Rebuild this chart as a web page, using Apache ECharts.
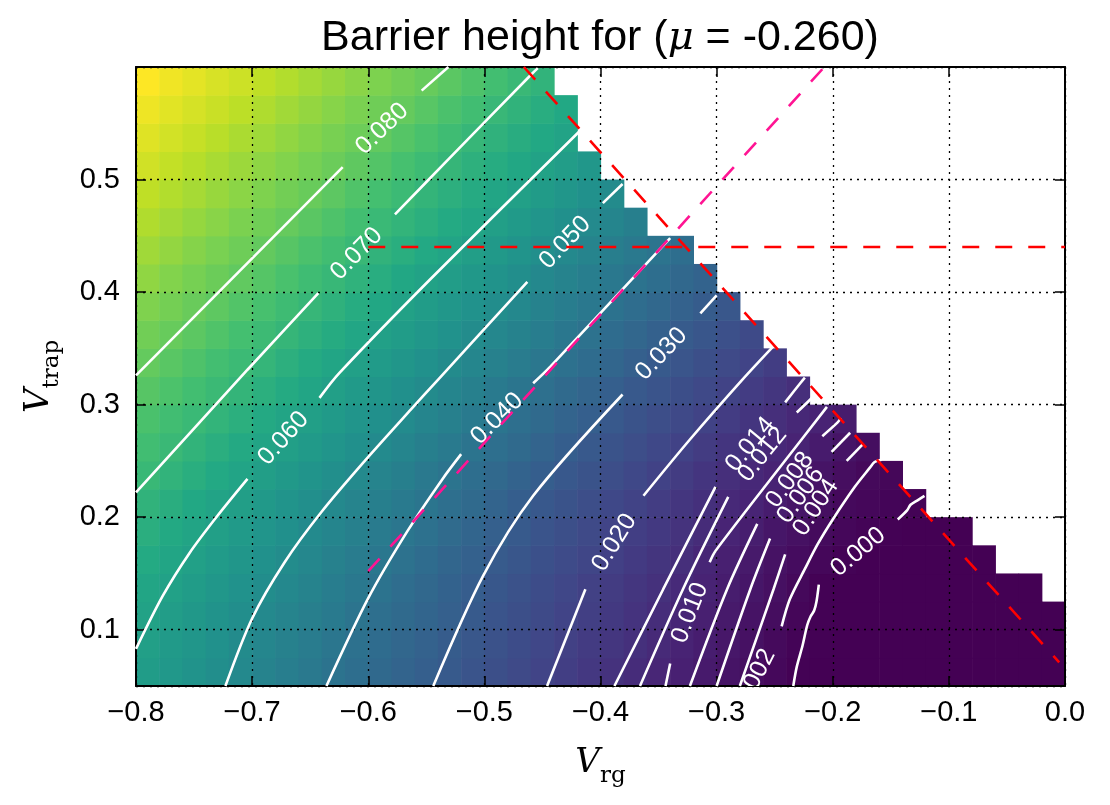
<!DOCTYPE html>
<html>
<head>
<meta charset="utf-8">
<script src="https://cdn.jsdelivr.net/npm/echarts@6/dist/echarts.min.js"></script>
<style>html,body{margin:0;padding:0;background:#fff}#chart{width:1110px;height:805px}</style>
</head>
<body>
<div id="chart"></div>
<script>
// ---------------- data ----------------
// heatmap cell centres
const xCenters = [-0.79,-0.77,-0.75,-0.73,-0.71,-0.69,-0.67,-0.65,-0.63,-0.61,-0.59,-0.57,-0.55,-0.53,-0.51,-0.49,-0.47,-0.45,-0.43,-0.41,-0.39,-0.37,-0.35,-0.33,-0.31,-0.29,-0.27,-0.25,-0.23,-0.21,-0.19,-0.17,-0.15,-0.13,-0.11,-0.09,-0.07,-0.05,-0.03,-0.01];
const yCenters = [0.0625,0.0875,0.1125,0.1375,0.1625,0.1875,0.2125,0.2375,0.2625,0.2875,0.3125,0.3375,0.3625,0.3875,0.4125,0.4375,0.4625,0.4875,0.5125,0.5375,0.5625,0.5875];
// barrier height in units of 1e-3, one row per yCenter; cells past the end of a row are masked (white)
const barrierRows = [
[57.8,55.7,53.5,51.3,49.1,46.8,44.5,42.3,40.0,37.8,35.7,33.5,31.3,29.2,27.1,25.0,22.9,20.8,18.8,16.9,14.9,12.9,10.8,9.0,7.2,5.4,3.5,1.7,-0.2,-0.5,-0.5,-0.5,-0.5,-0.5,-0.5,-0.5,-0.5,-0.5,-0.5,-0.5],
[59.1,56.9,54.7,52.4,50.2,48.0,45.8,43.6,41.3,39.1,36.9,34.7,32.5,30.3,28.2,26.1,24.0,21.9,19.8,17.9,16.0,14.1,12.0,9.8,8.1,6.2,4.2,2.2,0.4,-0.3,-0.5,-0.5,-0.5,-0.5,-0.5,-0.5,-0.5,-0.5,-0.5,-0.5],
[60.4,58.2,56.0,53.7,51.4,49.2,47.0,44.8,42.6,40.4,38.2,36.0,33.8,31.6,29.4,27.2,25.1,23.0,20.9,18.9,17.0,15.2,13.2,10.9,8.9,7.0,5.1,3.0,1.0,-0.2,-0.5,-0.5,-0.5,-0.5,-0.5,-0.5,-0.5,-0.5,-0.5,-0.5],
[62.0,59.8,57.5,55.3,53.1,50.8,48.6,46.4,44.1,41.9,39.7,37.4,35.1,32.8,30.5,28.3,26.2,24.0,21.9,19.8,18.0,16.2,14.4,12.2,9.7,8.0,6.0,3.9,1.8,-0.1,-0.5,-0.5,-0.5,-0.5,-0.5,-0.5,-0.5,-0.5,-0.5],
[63.9,61.7,59.4,57.1,54.9,52.6,50.3,48.1,45.9,43.7,41.5,39.3,36.9,34.5,32.1,29.8,27.7,25.6,23.5,21.4,19.3,17.5,15.6,13.6,10.9,8.8,7.0,4.8,2.9,1.3,0.0,-0.5,-0.5,-0.5,-0.5,-0.5,-0.5],
[65.9,63.6,61.3,59.0,56.6,54.3,52.0,49.7,47.5,45.5,43.3,41.2,38.9,36.5,34.0,31.6,29.3,27.2,25.1,22.9,20.8,18.8,17.1,15.1,12.7,10.2,8.2,6.0,4.2,2.4,1.3,0.5,-0.2,-0.5,-0.5,-0.5],
[67.9,65.6,63.3,61.0,58.7,56.3,53.9,51.5,49.2,47.1,45.0,42.8,40.6,38.3,35.9,33.4,31.0,28.7,26.6,24.5,22.4,20.3,18.3,16.2,14.2,11.8,10.1,7.8,5.7,3.8,2.0,1.3,0.7,0.1],
[70.4,68.1,65.8,63.4,61.1,58.7,56.4,54.1,51.8,49.5,47.2,44.9,42.5,40.2,37.9,35.5,33.2,30.9,28.7,26.6,24.5,22.3,20.2,18.0,15.9,13.7,11.6,9.9,7.6,5.4,3.5,1.8,1.2],
[72.7,70.6,68.3,66.0,63.7,61.2,58.9,56.6,54.3,52.0,49.7,47.4,45.1,42.8,40.4,38.1,35.8,33.5,31.1,28.8,26.7,24.5,22.4,20.2,18.0,15.8,13.7,11.6,9.8,7.4,5.3,3.3],
[75.0,72.9,70.8,68.6,66.2,63.8,61.4,59.1,56.8,54.5,52.1,49.8,47.5,45.2,42.9,40.6,38.2,35.9,33.6,31.2,29.0,26.8,24.6,22.5,20.3,18.1,15.9,13.7,11.5,9.7,7.6],
[77.5,75.4,73.2,71.1,68.8,66.4,64.0,61.6,59.2,56.9,54.6,52.3,50.0,47.6,45.3,43.0,40.7,38.4,36.1,33.7,31.4,29.1,27.0,24.8,22.6,20.4,18.2,16.0,13.7],
[80.1,77.9,75.7,73.5,71.3,69.0,66.6,64.1,61.7,59.3,57.0,54.7,52.4,50.2,48.0,45.8,43.6,41.4,39.1,36.7,34.2,31.8,29.5,27.3,25.1,22.9,20.7,18.5],
[82.7,80.6,78.4,76.1,73.8,71.6,69.3,66.9,64.5,62.1,59.7,57.4,55.1,52.8,50.5,48.3,46.1,43.9,41.6,39.4,37.0,34.6,32.2,29.8,27.6,25.3,23.0],
[85.2,83.2,81.1,78.9,76.6,74.3,72.0,69.6,67.2,64.8,62.5,60.1,57.8,55.5,53.2,50.8,48.6,46.3,44.1,41.9,39.6,37.3,35.0,32.6,30.2,28.0],
[87.8,85.7,83.6,81.5,79.4,77.1,74.7,72.3,70.0,67.6,65.3,62.9,60.5,58.2,55.9,53.5,51.2,48.9,46.6,44.4,42.1,39.9,37.6,35.3,33.0],
[90.4,88.3,86.2,84.1,82.0,79.9,77.6,75.2,72.8,70.4,68.0,65.7,63.4,61.1,58.7,56.3,53.9,51.5,49.2,46.9,44.6,42.4,40.1,37.9],
[92.9,90.8,88.7,86.7,84.6,82.5,80.4,78.1,75.7,73.3,70.8,68.5,66.2,63.9,61.6,59.2,56.8,54.4,52.0,49.6,47.3,45.0],
[95.4,93.3,91.3,89.2,87.1,85.0,82.9,80.8,78.6,76.2,73.7,71.3,68.9,66.6,64.3,62.0,59.7,57.3,54.9,52.5,50.1],
[98.1,96.0,93.9,91.8,89.7,87.6,85.6,83.5,81.4,79.1,76.7,74.2,71.7,69.3,67.0,64.8,62.5,60.3,57.9,55.5],
[100.6,98.5,96.4,94.3,92.2,90.2,88.1,86.0,83.9,81.8,79.7,77.2,74.7,72.2,69.7,67.5,65.2,63.0,60.8],
[103.1,101.0,98.9,96.9,94.8,92.7,90.6,88.5,86.4,84.3,82.2,80.3,77.7,75.2,72.7,70.2,67.8,65.4,63.0],
[105.6,103.5,101.4,99.3,97.4,95.3,93.2,91.1,89.0,86.9,84.9,82.8,80.7,78.3,75.7,73.2,70.6,68.1]
];

// contour levels and their traced paths (each path = list of segments, label gaps between segments)
const contourLabels = ['0.000','0.002','0.004','0.006','0.008','0.010','0.012','0.014','0.020','0.030','0.040','0.050','0.060','0.070','0.080'];
const contourPaths = [
  [[[-0.234,0.050],[-0.231,0.067],[-0.226,0.086],[-0.222,0.104],[-0.219,0.112],[-0.216,0.117],[-0.214,0.125],[-0.212,0.140]],
   [[-0.144,0.198],[-0.136,0.206],[-0.133,0.211],[-0.127,0.215],[-0.121,0.219]]],
  [[[-0.290,0.010]],
   [[-0.244,0.103],[-0.237,0.127],[-0.224,0.154],[-0.213,0.176],[-0.200,0.198],[-0.181,0.227],[-0.168,0.244],[-0.164,0.249],[-0.158,0.251]]],
  [[[-0.280,0.050],[-0.251,0.136],[-0.241,0.167]], [[-0.188,0.250],[-0.174,0.265]]],
  [[[-0.300,0.050],[-0.271,0.136],[-0.254,0.181]], [[-0.201,0.258],[-0.185,0.275]]],
  [[[-0.323,0.050],[-0.291,0.136],[-0.265,0.194]], [[-0.209,0.272],[-0.196,0.284],[-0.193,0.288]]],
  [[[-0.344,0.050],[-0.340,0.070]], [[-0.306,0.160],[-0.301,0.170],[-0.245,0.245],[-0.205,0.298]]],
  [[[-0.366,0.050],[-0.329,0.136],[-0.290,0.218]], [[-0.231,0.293],[-0.215,0.309],[-0.212,0.313]]],
  [[[-0.388,0.050],[-0.346,0.136],[-0.301,0.227]], [[-0.241,0.302],[-0.228,0.319],[-0.224,0.324]]],
  [[[-0.446,0.050],[-0.413,0.136]], [[-0.363,0.219],[-0.323,0.269],[-0.278,0.322],[-0.251,0.352]]],
  [[[-0.544,0.050],[-0.501,0.148],[-0.458,0.219],[-0.381,0.309]], [[-0.314,0.381],[-0.300,0.397]]],
  [[[-0.636,0.050],[-0.600,0.128],[-0.566,0.188],[-0.536,0.234],[-0.520,0.256]], [[-0.458,0.319],[-0.443,0.334],[-0.340,0.448]]],
  [[[-0.723,0.050],[-0.700,0.110],[-0.672,0.160],[-0.640,0.205],[-0.603,0.250],[-0.563,0.296],[-0.540,0.322],[-0.463,0.409]], [[-0.398,0.479],[-0.381,0.496]]],
  [[[-0.800,0.083],[-0.777,0.130],[-0.754,0.168],[-0.730,0.201],[-0.704,0.234]], [[-0.642,0.306],[-0.625,0.328],[-0.547,0.411],[-0.415,0.546]]],
  [[[-0.800,0.222],[-0.704,0.331],[-0.643,0.399]], [[-0.577,0.469],[-0.530,0.519],[-0.459,0.594],[-0.454,0.599]]],
  [[[-0.800,0.326],[-0.622,0.511]], [[-0.554,0.579],[-0.531,0.600]]]
];

// reference lines
const redHorizontal = [[-0.6,0.44],[0.0,0.44]];
const redDiagonal = [[-0.466,0.600],[-0.005,0.071]];
const pinkDiagonal = [[-0.600,0.152],[-0.209,0.598]];

// axis ranges
const xRange = [-0.8, 0.0];
const yRange = [0.05, 0.6];

// ---------------- build chart ----------------
const cells = [];
barrierRows.forEach((row, r) => {
  row.forEach((v, c) => { cells.push([xCenters[c], yCenters[r], v / 1000]); });
});
let vMin = Infinity, vMax = -Infinity;
cells.forEach(d => { vMin = Math.min(vMin, d[2]); vMax = Math.max(vMax, d[2]); });
const cellW = Math.abs(xCenters[1] - xCenters[0]);
const cellH = Math.abs(yCenters[1] - yCenters[0]);

const labelItems = [];
contourPaths.forEach((segs, li) => {
  for (let k = 0; k + 1 < segs.length; k++) {
    const a = segs[k][segs[k].length - 1], b = segs[k + 1][0];
    labelItems.push([(a[0] + b[0]) / 2, (a[1] + b[1]) / 2, li, a[0], a[1], b[0], b[1]]);
  }
});

const viridis = ['#440154','#482475','#414487','#355f8d','#2a788e','#21918c','#22a884','#44bf70','#7ad151','#bddf26','#fde725'];
const sans = 'Liberation Sans, Arial, Helvetica, sans-serif';
const serif = 'DejaVu Serif, serif';

const series = [];
series.push({
  type: 'custom', name: 'barrier', z: 1, clip: true, silent: true,
  dimensions: ['x', 'y', 'v'], encode: { x: 0, y: 1 },
  data: cells,
  renderItem: function (params, api) {
    const x = api.value(0), y = api.value(1);
    const p0 = api.coord([x - cellW / 2, y + cellH / 2]);
    const p1 = api.coord([x + cellW / 2, y - cellH / 2]);
    return { type: 'rect', shape: { x: p0[0], y: p0[1], width: p1[0] - p0[0] + 0.6, height: p1[1] - p0[1] + 0.6 },
             style: { fill: api.visual('color') } };
  }
});
contourPaths.forEach(segs => segs.forEach(seg => {
  if (seg.length > 1) series.push({ type: 'line', data: seg, symbol: 'none', showSymbol: false, z: 4, silent: true, clip: true,
    smooth: 0.3, lineStyle: { color: '#ffffff', width: 2.6 } });
}));
series.push({
  type: 'custom', name: 'contour labels', z: 5, clip: true, silent: true,
  dimensions: ['x', 'y', 'lvl', 'x1', 'y1', 'x2', 'y2'], encode: { x: 0, y: 1 },
  data: labelItems,
  renderItem: function (params, api) {
    const p = api.coord([api.value(0), api.value(1)]);
    const a = api.coord([api.value(3), api.value(4)]);
    const b = api.coord([api.value(5), api.value(6)]);
    let ang = Math.atan2(-(b[1] - a[1]), b[0] - a[0]);
    if (ang > Math.PI / 2) ang -= Math.PI;
    if (ang < -Math.PI / 2) ang += Math.PI;
    return { type: 'text', x: p[0], y: p[1], rotation: ang,
             style: { text: contourLabels[api.value(2)], fill: '#ffffff', fontSize: 25, fontFamily: sans, align: 'center', verticalAlign: 'middle' } };
  }
});
[[redHorizontal, '#ff0000'], [redDiagonal, '#ff0000'], [pinkDiagonal, '#ff1493']].forEach(([d, col]) => {
  series.push({ type: 'line', data: d, symbol: 'none', showSymbol: false, z: 6, silent: true, clip: true,
    lineStyle: { color: col, width: 2.6, type: [17, 16] } });
});

const fmtX = v => { const s = Math.abs(v).toFixed(1); return v < -1e-9 ? '\u2212' + s : s; };
const fmtY = v => (Math.abs(v * 10 - Math.round(v * 10)) < 1e-6 && v > yRange[0] + 1e-6 && v < yRange[1] - 1e-6) ? v.toFixed(1) : '';
const tickStyle = { show: true, inside: true, length: 10, lineStyle: { color: '#000', width: 1.5 } };
const lineStyleAxis = { show: true, onZero: false, lineStyle: { color: '#000', width: 2 } };
const splitStyle = { show: true, lineStyle: { color: '#000', width: 1.3, type: [2, 5] } };
const nameRich = {
  v: { fontFamily: serif, fontStyle: 'italic', fontSize: 34, lineHeight: 50, color: '#000' },
  s: { fontFamily: serif, fontSize: 23, lineHeight: 28, verticalAlign: 'bottom', color: '#000' }
};

const chart = echarts.init(document.getElementById('chart'), null, { renderer: 'canvas' });
chart.setOption({
  animation: false,
  backgroundColor: '#ffffff',
  title: {
    text: '{a|Barrier height for (}{m|\u03bc}{a| = -0.260)}',
    left: 600, top: 17, textAlign: 'center', padding: 0,
    textStyle: { fontWeight: 'normal', rich: {
      a: { fontFamily: sans, fontSize: 43, fontWeight: 'normal', color: '#000' },
      m: { fontFamily: serif, fontStyle: 'italic', fontWeight: 'normal', fontSize: 40, color: '#000' }
    } }
  },
  grid: { left: 136, right: 45, top: 67, bottom: 119, containLabel: false, outerBoundsMode: 'none' },
  visualMap: { type: 'continuous', show: false, seriesIndex: 0, dimension: 2, min: vMin, max: vMax, inRange: { color: viridis } },
  xAxis: [
    { type: 'value', min: xRange[0], max: xRange[1], interval: 0.1, position: 'bottom', z: 3,
      axisLine: lineStyleAxis, axisTick: tickStyle, splitLine: splitStyle,
      axisLabel: { color: '#000', fontSize: 29, fontFamily: sans, margin: 12, formatter: fmtX },
      name: '{v|V}{s|rg}', nameLocation: 'middle', nameGap: 52, nameTextStyle: { rich: nameRich } },
    { type: 'value', min: xRange[0], max: xRange[1], interval: 0.1, position: 'top', z: 3,
      axisLine: lineStyleAxis, axisTick: tickStyle, splitLine: { show: false }, axisLabel: { show: false } }
  ],
  yAxis: [
    { type: 'value', min: yRange[0], max: yRange[1], splitNumber: 5, position: 'left', z: 3,
      axisLine: lineStyleAxis, axisTick: tickStyle, splitLine: splitStyle,
      axisLabel: { color: '#000', fontSize: 29, fontFamily: sans, margin: 16, formatter: fmtY, showMinLabel: true, showMaxLabel: true },
      name: '{v|V}{s|trap}', nameLocation: 'middle', nameRotate: 90, nameGap: 72, nameTextStyle: { rich: nameRich } },
    { type: 'value', min: yRange[0], max: yRange[1], splitNumber: 5, position: 'right', z: 3,
      axisLine: lineStyleAxis, axisTick: tickStyle, splitLine: { show: false }, axisLabel: { show: false } }
  ],
  series: series
});
</script>
</body>
</html>
